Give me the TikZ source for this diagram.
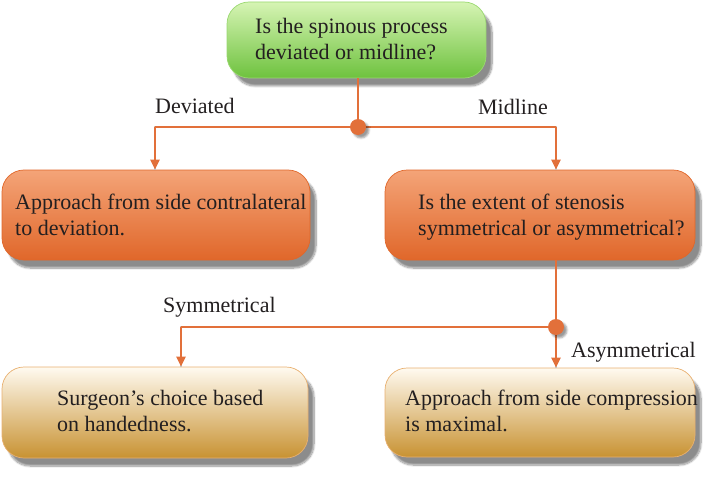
\documentclass[tikz,border=0pt]{standalone}
\usepackage{fontspec}
\setmainfont{Liberation Serif}
\usetikzlibrary{arrows.meta,shadows.blur}
\definecolor{conc}{HTML}{E2703A}
\definecolor{gtop}{HTML}{D6F4B4}
\definecolor{gbot}{HTML}{6EC23E}
\definecolor{gdraw}{HTML}{9AD870}
\definecolor{otop}{HTML}{F4A478}
\definecolor{obot}{HTML}{E0672A}
\definecolor{tmid}{HTML}{E6C48C}
\definecolor{ttop}{HTML}{FFFAF0}
\definecolor{tbot}{HTML}{C89232}
\definecolor{tdraw}{HTML}{E8B070}
\definecolor{ink}{HTML}{231F20}
\begin{document}
\begin{tikzpicture}[x=1pt,y=-1pt,
  box/.style={rectangle, rounded corners=22pt, line width=0.7pt, inner sep=0pt,
    blur shadow={shadow xshift=6pt, shadow yshift=-8pt, shadow blur steps=10, shadow opacity=45}},
  greenbox/.style={box, draw=gdraw, top color=gtop, bottom color=gbot},
  orangebox/.style={box, draw=obot, top color=otop, bottom color=obot},
  tanbox/.style={box, draw=tdraw, top color=ttop, middle color=tmid, bottom color=tbot},
  txt/.style={font=\fontsize{22}{26}\selectfont, text=ink, align=left, inner sep=0pt},
  lbl/.style={font=\fontsize{22}{26}\selectfont, text=ink, inner sep=0pt},
  con/.style={draw=conc, line width=2.6pt},
  conarrow/.style={con, -{Triangle[length=10pt,width=9pt]}},
  conshadow/.style={draw=black!22, line width=2.6pt},
  dot/.style={fill=conc, blur shadow={shadow xshift=3pt, shadow yshift=-3pt, shadow opacity=40}}
]
\useasboundingbox (0,0) rectangle (709,492);

% boxes
\node[greenbox, minimum width=259pt, minimum height=76pt] (top) at (356.5,40) {};
\node[orangebox, minimum width=308pt, minimum height=90pt] (lo) at (156,215) {};
\node[orangebox, minimum width=310pt, minimum height=90pt] (ro) at (540,215) {};
\node[tanbox, minimum width=306pt, minimum height=91pt] (bl) at (155,412.5) {};
\node[tanbox, minimum width=310pt, minimum height=89pt] (br) at (540,412.5) {};

% texts
\node[txt, anchor=west] (ttop) at (255,39) {Is the spinous process\\deviated or midline?};
\node[txt, anchor=west] (tlo) at (15,215) {Approach from side contralateral\\to deviation.};
\node[txt, anchor=west] (tro) at (418,217) {Is the extent of stenosis\\symmetrical or asymmetrical?};
\node[txt, anchor=west] (tbl) at (57,411) {Surgeon’s choice based\\on handedness.};
\node[txt, anchor=west] (tbr) at (405,411) {Approach from side compression\\is maximal.};

% junction coordinates
\coordinate (j1) at (358,127);
\coordinate (a1) at (155,127);
\coordinate (a2) at (556,127);
\coordinate (j2) at (556,327);
\coordinate (b1) at (181,327);

% connector shadows
\begin{scope}[shift={(2.5,2.5)}]
\draw[conshadow] (top.south -| j1) -- (j1);
\draw[conshadow] (a1 |- lo.north) -- (a1) -- (a2) -- (a2 |- ro.north);
\draw[conshadow] (ro.south -| j2) -- (j2) -- (b1) -- (b1 |- bl.north);
\draw[conshadow] (j2) -- (j2 |- br.north);
\end{scope}

% connectors
\draw[con] (top.south -| j1) -- (j1);
\draw[con] (a1) -- (a2);
\draw[conarrow] (a1) -- (a1 |- lo.north);
\draw[conarrow] (a2) -- (a2 |- ro.north);
\draw[con] (ro.south -| j2) -- (j2) -- (b1);
\draw[conarrow] (b1) -- (b1 |- bl.north);
\draw[conarrow] (j2) -- (j2 |- br.north);
\fill[dot] (j1) circle (8);
\fill[dot] (j2) circle (8);

% labels
\node[lbl, anchor=west] (ldev) at (155,106) {Deviated};
\node[lbl, anchor=east] (lmid) at (548,107) {Midline};
\node[lbl, anchor=west] (lsym) at (163,307) {Symmetrical};
\node[lbl, anchor=west] (lasy) at (571,352) {Asymmetrical};
\end{tikzpicture}
\end{document}
